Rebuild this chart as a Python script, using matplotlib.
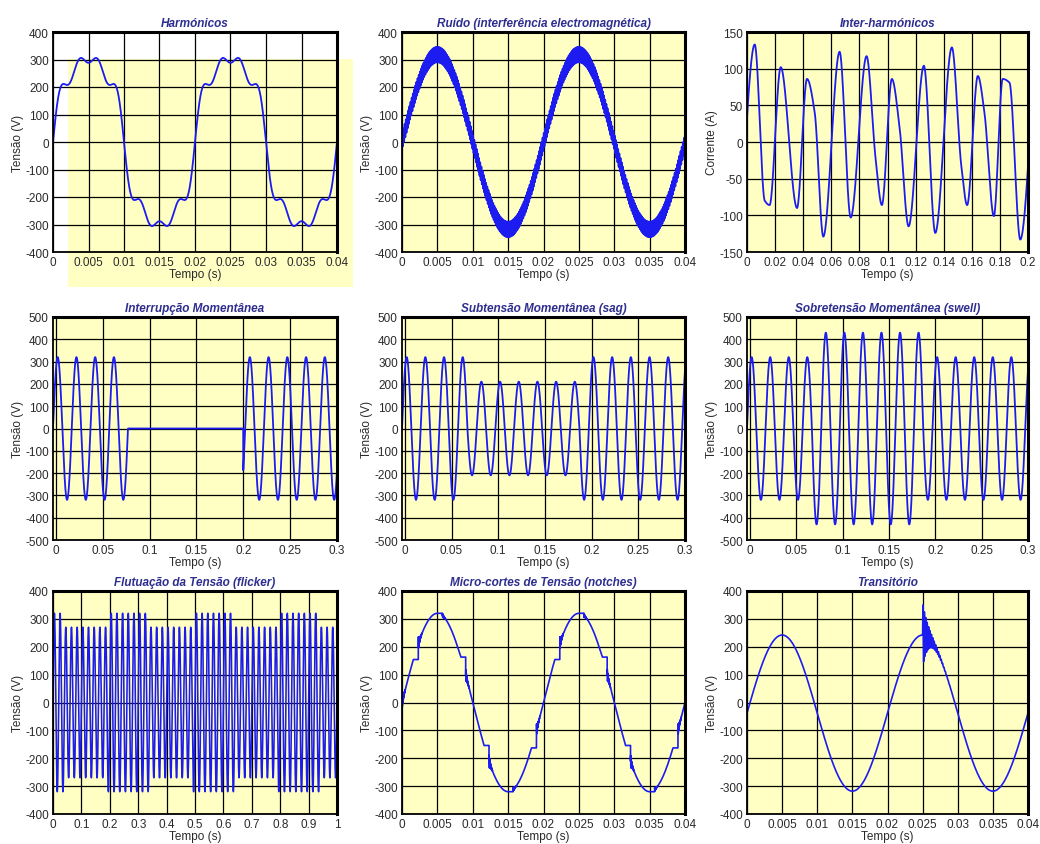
import numpy as np
import matplotlib
matplotlib.use('Agg')
import matplotlib.pyplot as plt
from matplotlib.patches import Rectangle

plt.rcParams['font.family'] = ['Liberation Sans', 'DejaVu Sans']

# ---- values ----
F0 = 50.0  # fundamental (Hz)

# Harmónicos: odd harmonic orders and peak amplitudes (V)
HARM_ORDERS = [1, 3, 5, 7]
HARM_AMPS = [330, 44, 32, 30]

# Ruído: sine + high-frequency interference
NOISE_BASE = 318
NOISE_AMP = 28
NOISE_FREQ = 6000

# Inter-harmónicos: extremes / shoulders of the current (s, A)
IH_T = [-0.0055, 0.0055, 0.0126, 0.0161, 0.0240, 0.0356, 0.0427, 0.0482,
        0.0543, 0.0659, 0.0738, 0.0851, 0.0915, 0.0960, 0.1031, 0.1085,
        0.1150, 0.1259, 0.1340, 0.1458, 0.1525, 0.1567, 0.1643, 0.1690,
        0.1757, 0.1820, 0.1868, 0.1945, 0.2055]
IH_I = [-133, 133, -80, -86, 102, -90, 86, 40,
        -129, 123, -103, 117, -22, -86, 86, 22,
        -115, 104, -124, 129, -32, -86, 90, 40,
        -101, 86, 81, -133, 133]

# Interrupção: amplitude, start/end of the outage, phase before/after (deg)
INT_AMP = 320
INT_START = 0.077
INT_END = 0.200
INT_PHASE = [54, -36]

# Sag / swell
NOMINAL = 320
SAG_LEVEL = 210
SWELL_LEVEL = 430
EVENT_START = 0.067
EVENT_END = 0.187
EVENT_PHASE = 54

# Flicker: amplitude blocks
FLICK_EDGES = [0, 0.04, 0.19, 0.34, 0.49, 0.64, 0.79, 0.94, 1.0]
FLICK_AMPS = [320, 270, 320, 270, 320, 270, 320, 270]

# Notches: end of each commutation notch within a cycle (s) and ringing size (V)
NOTCH_AMP = 320
NOTCH_ENDS = [0.0023, 0.0057, 0.0090, 0.0123, 0.0157, 0.0190]
NOTCH_RINGS = [25, 8, 22, 25, 8, 22]
NOTCH_WIDTH = 0.0007

# Transitório
TR_AMP = 280
TR_OFFSET = -38
TR_TIME = 0.025
TR_RING = 115
TR_FREQ = 5000
TR_TAU = 0.0008

YELLOW = '#ffffc4'
BLUE = '#1c1cf0'
TITLE_C = '#2e2e8f'
TXT = '#2a2a2a'
W, H = 1040, 845

def pchip(xk, yk, x):
    xk = np.asarray(xk, float); yk = np.asarray(yk, float)
    h = np.diff(xk); d = np.diff(yk) / h
    m = np.zeros_like(yk)
    for k in range(1, len(xk) - 1):
        if d[k-1] * d[k] > 0:
            w1 = 2*h[k] + h[k-1]; w2 = h[k] + 2*h[k-1]
            m[k] = (w1 + w2) / (w1/d[k-1] + w2/d[k])
    m[0] = d[0]; m[-1] = d[-1]
    i = np.clip(np.searchsorted(xk, x) - 1, 0, len(h) - 1)
    s = (x - xk[i]) / h[i]
    return ((2*s**3 - 3*s**2 + 1)*yk[i] + (s**3 - 2*s**2 + s)*h[i]*m[i]
            + (-2*s**3 + 3*s**2)*yk[i+1] + (s**3 - s**2)*h[i]*m[i+1])

w = 2*np.pi*F0

fig = plt.figure(figsize=(W/100, H/100), dpi=100)
fig.patches.append(Rectangle((68/W, 1-288/H), (353-68)/W, (288-60)/H,
                             transform=fig.transFigure, facecolor=YELLOW,
                             edgecolor='none', zorder=-1))

cols = [(53, 337), (402, 685), (747, 1028)]
rows = [(33, 253), (318, 541), (592, 815)]

def make_ax(r, c, title, xlim, xticks, ylim, yticks, ylabel='Tensão (V)', face=YELLOW):
    l, rr = cols[c]; t, b = rows[r]
    ax = fig.add_axes([l/W, 1-b/H, (rr-l)/W, (b-t)/H])
    ax.set_facecolor(face)
    ax.set_xlim(xlim); ax.set_ylim(ylim)
    ax.set_xticks(xticks); ax.set_yticks(yticks)
    ax.set_xticklabels(['%g' % v for v in xticks])
    ax.set_yticklabels(['%g' % v for v in yticks])
    ax.grid(True, color='black', lw=0.9)
    ax.set_axisbelow(True)
    ax.tick_params(length=0, labelsize=8.5, colors=TXT, pad=3)
    for s in ax.spines.values():
        s.set_linewidth(1.3)
    ax.spines['top'].set_linewidth(2.2)
    ax.spines['right'].set_linewidth(2.2)
    ax.set_title(title, fontsize=8.5, fontweight='bold', style='italic',
                 color=TITLE_C, pad=4)
    ax.set_xlabel('Tempo (s)', fontsize=8.5, color=TXT, labelpad=0)
    ax.set_ylabel(ylabel, fontsize=8.5, color=TXT, labelpad=1)
    return ax

t40 = np.linspace(0, 0.04, 80001)
xt40 = [0, 0.005, 0.01, 0.015, 0.02, 0.025, 0.03, 0.035, 0.04]
y400 = list(range(-400, 401, 100))
y500 = list(range(-500, 501, 100))
xt03 = [0, 0.05, 0.1, 0.15, 0.2, 0.25, 0.3]

# 1 Harmónicos
ax = make_ax(0, 0, 'Harmónicos', (0, 0.04), xt40, (-400, 400), y400, face='none')
v = sum(a*np.sin(n*w*t40) for n, a in zip(HARM_ORDERS, HARM_AMPS))
ax.plot(t40, v, color=BLUE, lw=1.3)

# 2 Ruído
ax = make_ax(0, 1, 'Ruído (interferência electromagnética)', (0, 0.04), xt40, (-400, 400), y400)
v = NOISE_BASE*np.sin(w*t40) + NOISE_AMP*np.sin(2*np.pi*NOISE_FREQ*t40)
ax.plot(t40, v, color=BLUE, lw=1.4)

# 3 Inter-harmónicos
ax = make_ax(0, 2, 'Inter-harmónicos', (0, 0.2), [round(0.02*k, 2) for k in range(11)],
             (-150, 150), list(range(-150, 151, 50)), ylabel='Corrente (A)')
t = np.linspace(0, 0.2, 20001)
ax.plot(t, pchip(IH_T, IH_I, t), color=BLUE, lw=1.3)

# 4 Interrupção
ax = make_ax(1, 0, 'Interrupção Momentânea', (-0.003, 0.3), xt03, (-500, 500), y500)
t = np.linspace(-0.003, 0.3, 30301)
p1, p2 = np.radians(INT_PHASE)
v = np.where(t < INT_START, INT_AMP*np.sin(w*t + p1),
             np.where(t < INT_END, 0.0, INT_AMP*np.sin(w*t + p2)))
ax.plot(t, v, color=BLUE, lw=1.3)

# 5 Sag, 6 Swell
for c, title, level in [(1, 'Subtensão Momentânea (sag)', SAG_LEVEL),
                        (2, 'Sobretensão Momentânea (swell)', SWELL_LEVEL)]:
    ax = make_ax(1, c, title, (-0.003, 0.3), xt03, (-500, 500), y500)
    amp = np.where((t >= EVENT_START) & (t < EVENT_END), level, NOMINAL)
    ax.plot(t, amp*np.sin(w*t + np.radians(EVENT_PHASE)), color=BLUE, lw=1.3)

# 7 Flicker
ax = make_ax(2, 0, 'Flutuação da Tensão (flicker)', (0, 1), [round(0.1*k, 1) for k in range(11)],
             (-400, 400), y400)
t = np.linspace(0, 1, 100001)
idx = np.clip(np.searchsorted(FLICK_EDGES, t, side='right') - 1, 0, len(FLICK_AMPS) - 1)
ax.plot(t, np.asarray(FLICK_AMPS)[idx]*np.sin(w*t), color=BLUE, lw=1.15)

# 8 Notches
ax = make_ax(2, 1, 'Micro-cortes de Tensão (notches)', (0, 0.04), xt40, (-400, 400), y400)
v = NOTCH_AMP*np.sin(w*t40)
ends = [(0.0, 25)] + [(e + 0.02*k, g) for k in range(2) for e, g in zip(NOTCH_ENDS, NOTCH_RINGS)]
for e, g in ends:
    if e > 0:
        m = (t40 >= e - NOTCH_WIDTH) & (t40 < e)
        v[m] = NOTCH_AMP*np.sin(w*(e - NOTCH_WIDTH))
    r = (t40 >= e) & (t40 < e + 0.0005)
    v[r] += g*np.exp(-(t40[r] - e)/0.0002)*np.sin(2*np.pi*15000*(t40[r] - e))
ax.plot(t40, v, color=BLUE, lw=1.2)

# 9 Transitório
ax = make_ax(2, 2, 'Transitório', (0, 0.04), xt40, (-400, 400), y400)
v = TR_OFFSET + TR_AMP*np.sin(w*t40)
r = t40 >= TR_TIME
v[r] += TR_RING*np.exp(-(t40[r] - TR_TIME)/TR_TAU)*np.sin(2*np.pi*TR_FREQ*(t40[r] - TR_TIME))
ax.plot(t40, v, color=BLUE, lw=1.2)

fig.savefig('out.png', dpi=100)
